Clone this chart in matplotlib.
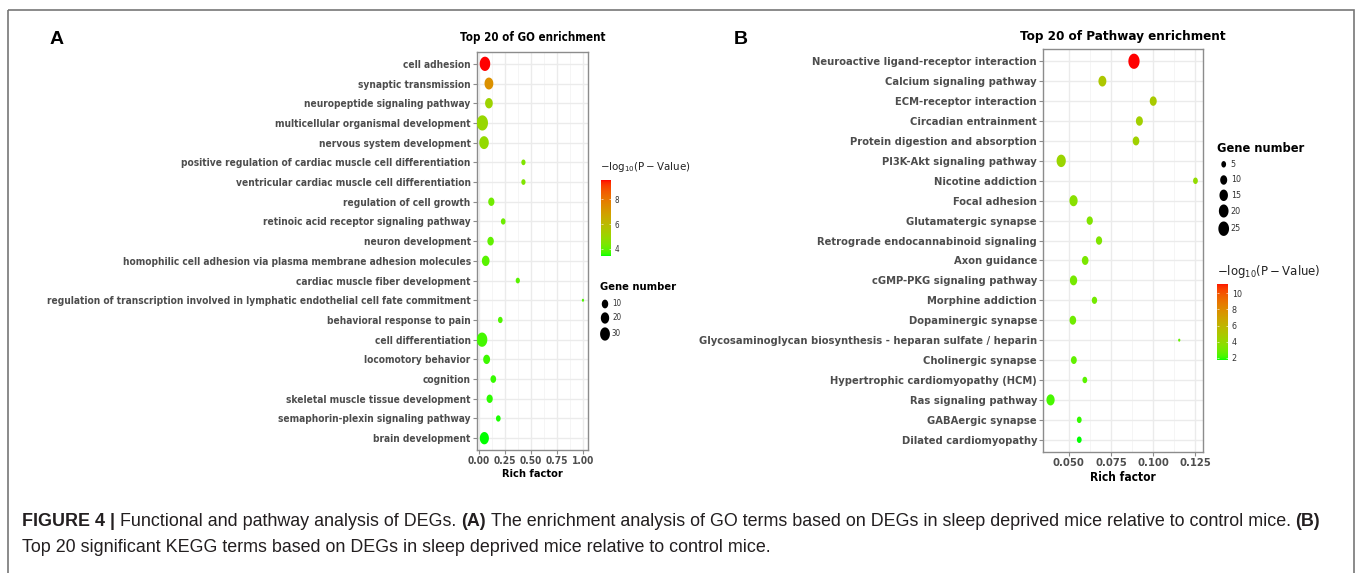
import numpy as np
import matplotlib
matplotlib.use("Agg")
import matplotlib.pyplot as plt
from matplotlib.colors import ListedColormap, Normalize
from matplotlib.path import Path
from matplotlib.patches import Rectangle

# ─────────────────────────────────────────────
# DATA
# ─────────────────────────────────────────────
go_terms = [
    "cell adhesion", "synaptic transmission", "neuropeptide signaling pathway",
    "multicellular organismal development", "nervous system development",
    "positive regulation of cardiac muscle cell differentiation",
    "ventricular cardiac muscle cell differentiation", "regulation of cell growth",
    "retinoic acid receptor signaling pathway", "neuron development",
    "homophilic cell adhesion via plasma membrane adhesion molecules",
    "cardiac muscle fiber development",
    "regulation of transcription involved in lymphatic endothelial cell fate commitment",
    "behavioral response to pain", "cell differentiation", "locomotory behavior",
    "cognition", "skeletal muscle tissue development",
    "semaphorin-plexin signaling pathway", "brain development",
]
go_rich = [0.060, 0.098, 0.098, 0.035, 0.051, 0.429, 0.429, 0.121, 0.235, 0.114,
           0.067, 0.375, 1.000, 0.207, 0.032, 0.076, 0.140, 0.105, 0.188, 0.054]
go_count = [36, 23, 16, 42, 28, 3, 3, 9, 4, 10, 16, 3, 1, 4, 36, 12, 7, 9, 4, 25]
go_logp = [9.56, 7.3, 5.1, 4.95, 4.85, 4.5, 4.5, 4.2, 4.15, 4.0,
           3.9, 3.9, 3.8, 3.8, 3.7, 3.65, 3.6, 3.55, 3.5, 3.43]

kegg_terms = [
    "Neuroactive ligand-receptor interaction", "Calcium signaling pathway",
    "ECM-receptor interaction", "Circadian entrainment",
    "Protein digestion and absorption", "PI3K-Akt signaling pathway",
    "Nicotine addiction", "Focal adhesion", "Glutamatergic synapse",
    "Retrograde endocannabinoid signaling", "Axon guidance",
    "cGMP-PKG signaling pathway", "Morphine addiction", "Dopaminergic synapse",
    "Glycosaminoglycan biosynthesis - heparan sulfate / heparin",
    "Cholinergic synapse", "Hypertrophic cardiomyopathy (HCM)",
    "Ras signaling pathway", "GABAergic synapse", "Dilated cardiomyopathy",
]
kegg_rich = [0.0886, 0.0699, 0.1000, 0.0918, 0.0898, 0.0455, 0.1250, 0.0528, 0.0624, 0.0679,
             0.0597, 0.0528, 0.0652, 0.0524, 0.1154, 0.0530, 0.0595, 0.0392, 0.0562, 0.0562]
kegg_count = [28, 13, 10, 10, 9, 18, 5, 14, 8, 8, 9, 11, 6, 9, 3, 7, 5, 14, 5, 5]
kegg_logp = [11.15, 5.0, 4.8, 4.5, 4.4, 4.2, 3.9, 3.6, 3.4, 3.3,
             3.2, 3.1, 3.0, 2.9, 2.7, 2.6, 2.5, 2.2, 2.0, 1.75]

go_size_breaks = [10, 20, 30]
kegg_size_breaks = [5, 10, 15, 20, 25]
go_color_ticks = [4, 6, 8]
kegg_color_ticks = [2, 4, 6, 8, 10]

# ─────────────────────────────────────────────
# STYLE
# ─────────────────────────────────────────────
W, H = 1360, 573
LAB = dict(family="DejaVu Sans", fontstretch="condensed", fontweight="bold")
TXT_GREY = "#4d4d4d"
BORDER = "#8c8c8c"


def _lin(c):
    return np.where(c <= 0.04045, c / 12.92, ((c + 0.055) / 1.055) ** 2.4)


M = np.array([[0.4124, 0.3576, 0.1805], [0.2126, 0.7152, 0.0722], [0.0193, 0.1192, 0.9505]])
WHITE = M.sum(axis=1)


def rgb2lab(rgb):
    xyz = M @ _lin(np.asarray(rgb, float)) / WHITE
    f = np.where(xyz > 0.008856, np.cbrt(xyz), 7.787 * xyz + 16 / 116)
    return np.array([116 * f[1] - 16, 500 * (f[0] - f[1]), 200 * (f[1] - f[2])])


def lab2rgb(lab):
    L, a, b = lab
    fy = (L + 16) / 116
    f = np.array([fy + a / 500, fy, fy - b / 200])
    xyz = np.where(f > 0.2069, f ** 3, (f - 16 / 116) / 7.787) * WHITE
    lin = np.clip(np.linalg.solve(M, xyz), 0, 1)
    return np.clip(np.where(lin <= 0.0031308, 12.92 * lin, 1.055 * lin ** (1 / 2.4) - 0.055), 0, 1)


# ggplot-like green -> red gradient (interpolated in Lab)
lab_lo, lab_hi = rgb2lab([0, 1, 0]), rgb2lab([1, 0, 0])
CMAP = ListedColormap([lab2rgb(lab_lo + t * (lab_hi - lab_lo)) for t in np.linspace(0, 1, 256)])

# points look slightly squashed horizontally in the original
th = np.linspace(0, 2 * np.pi, 64)
ELL = Path(np.c_[0.74 * np.cos(th), np.sin(th)], closed=True)


def dot_s(g, gmin, gmax):
    d_px = 3.0 + 12.2 * np.sqrt((np.asarray(g, float) - gmin) / (gmax - gmin))
    return (d_px * 0.72) ** 2


def px_rect(x0, y0, x1, y1):
    return [x0 / W, 1 - y1 / H, (x1 - x0) / W, (y1 - y0) / H]


fig = plt.figure(figsize=(W / 100, H / 100), dpi=100)
lax = fig.add_axes([0, 0, 1, 1])
lax.set_xlim(0, W)
lax.set_ylim(H, 0)
lax.axis("off")
lax.add_patch(Rectangle((8, 10), 1346, 600, fill=False, edgecolor="#777777", lw=1.2, clip_on=False))


def panel(rect, terms, rich, count, logp, title, xticks, fmt, fs, title_fs, title_pad):
    ax = fig.add_axes(rect)
    y = np.arange(len(terms))
    norm = Normalize(min(logp), max(logp))
    ax.scatter(rich, y, s=dot_s(count, min(count), max(count)), c=logp, cmap=CMAP, norm=norm,
               marker=ELL, linewidths=0, zorder=3)
    ax.set_ylim(len(terms) - 0.4, -0.6)
    pad = 0.05 * (max(rich) - min(rich))
    ax.set_xlim(min(rich) - pad, max(rich) + pad)
    ax.set_yticks(y)
    ax.set_yticklabels(terms, fontsize=fs, color=TXT_GREY, **LAB)
    ax.set_xticks(xticks)
    ax.set_xticklabels([fmt.format(t) for t in xticks], fontsize=fs, color=TXT_GREY, **LAB)
    ax.set_xticks(np.array(xticks[:-1]) + np.diff(xticks) / 2, minor=True)
    ax.tick_params(which="major", length=3, width=0.8, color=BORDER, pad=1.5)
    ax.tick_params(which="minor", length=0)
    ax.grid(which="major", color="#ebebeb", lw=1.0)
    ax.grid(which="minor", axis="x", color="#f4f4f4", lw=0.6)
    ax.set_axisbelow(True)
    for sp in ax.spines.values():
        sp.set_edgecolor(BORDER)
        sp.set_linewidth(1.0)
    ax.set_xlabel("Rich factor", fontsize=fs + 0.6, color="black", labelpad=2, **LAB)
    ax.set_title(title, fontsize=title_fs, color="black", pad=title_pad, **LAB)
    return norm


def colorbar(rect, norm, ticks, fs):
    cax = fig.add_axes(rect)
    grad = np.linspace(norm.vmin, norm.vmax, 256)[:, None]
    cax.imshow(grad, aspect="auto", origin="lower", cmap=CMAP, norm=norm,
               extent=[0, 1, norm.vmin, norm.vmax], interpolation="bilinear")
    cax.set_xlim(0, 1)
    cax.set_ylim(norm.vmin, norm.vmax)
    cax.set_xticks([])
    cax.set_yticks(ticks)
    cax.yaxis.tick_right()
    for sp in cax.spines.values():
        sp.set_visible(False)
    cax.tick_params(axis="y", direction="in", length=1.5, width=0.6, color=(1, 1, 1, 0.7),
                    left=True, right=True, labelleft=False, labelright=True,
                    labelsize=fs, labelcolor="#333333", pad=2.5)
    for lbl in cax.get_yticklabels():
        lbl.set_fontstretch("condensed")


def size_legend(x, ys, breaks, count, fs):
    lax.scatter([x] * len(breaks), ys, s=dot_s(breaks, min(count), max(count)),
                c="black", marker=ELL, linewidths=0)
    for yy, b in zip(ys, breaks):
        lax.text(x + 7, yy, str(b), fontsize=fs, color="#333333", va="center", ha="left",
                 family="DejaVu Sans", fontstretch="condensed")


# ─────────────────────────────────────────────
# PANEL A — GO
# ─────────────────────────────────────────────
norm_a = panel(px_rect(477, 52, 588, 450), go_terms, go_rich, go_count, go_logp,
               "Top 20 of GO enrichment", [0.0, 0.25, 0.5, 0.75, 1.0], "{:.2f}", 7.3, 8.3, 8)
lax.text(600, 167, r"$-\mathrm{log}_{10}(\mathrm{P}-\mathrm{Value})$", fontsize=7.4,
         ha="left", va="center", color="#222222")
colorbar(px_rect(600.7, 180, 610.7, 256), norm_a, go_color_ticks, 5.8)
lax.text(600, 287, "Gene number", fontsize=8.0, color="black", ha="left", va="center", **LAB)
size_legend(605, [304, 318, 334], go_size_breaks, go_count, 5.8)

# ─────────────────────────────────────────────
# PANEL B — KEGG
# ─────────────────────────────────────────────
norm_b = panel(px_rect(1043.3, 49.3, 1202.7, 451.7), kegg_terms, kegg_rich, kegg_count, kegg_logp,
               "Top 20 of Pathway enrichment", [0.05, 0.075, 0.1, 0.125], "{:.3f}", 8.0, 9.6, 6.7)
lax.text(1217, 148, "Gene number", fontsize=9.2, color="black", ha="left", va="center", **LAB)
size_legend(1223.7, [164.3, 180, 195.3, 211, 228.7], kegg_size_breaks, kegg_count, 6.4)
lax.text(1217, 271, r"$-\mathrm{log}_{10}(\mathrm{P}-\mathrm{Value})$", fontsize=8.5,
         ha="left", va="center", color="#222222")
colorbar(px_rect(1217.3, 284, 1228.3, 360), norm_b, kegg_color_ticks, 6.4)

# panel letters
lax.text(57, 40, "A", fontsize=14, fontweight="bold", family="Liberation Sans", ha="center", va="center")
lax.text(741, 40, "B", fontsize=14, fontweight="bold", family="Liberation Sans", ha="center", va="center")

# ─────────────────────────────────────────────
# CAPTION
# ─────────────────────────────────────────────
renderer = fig.canvas.get_renderer()


def rich_line(x, y, parts, size):
    for txt, bold in parts:
        t = lax.text(x, y, txt, fontsize=size, fontweight="bold" if bold else "normal",
                     family="Liberation Sans", color="#231f20", ha="left", va="center")
        x = t.get_window_extent(renderer=renderer).x1 + size * 0.38


CAP = 12.9
rich_line(22, 522, [("FIGURE 4 |", True), ("Functional and pathway analysis of DEGs.", False),
                    ("(A)", True),
                    ("The enrichment analysis of GO terms based on DEGs in sleep deprived mice "
                     "relative to control mice.", False), ("(B)", True)], CAP)
rich_line(22, 548, [("Top 20 significant KEGG terms based on DEGs in sleep deprived mice "
                     "relative to control mice.", False)], CAP)

fig.savefig("out.png", dpi=100)
